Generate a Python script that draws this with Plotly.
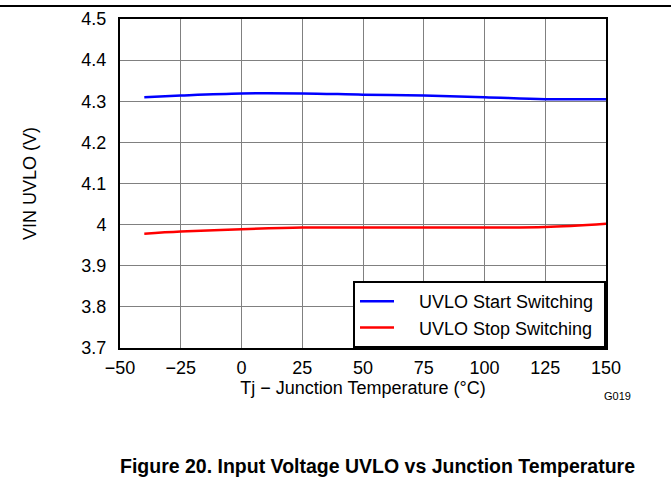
import plotly.graph_objects as go

temps = [-40, -25, 0, 25, 50, 75, 100, 125, 150]
uvlo_start = [4.310, 4.314, 4.319, 4.319, 4.316, 4.314, 4.310, 4.305, 4.305]
uvlo_stop = [3.978, 3.983, 3.989, 3.993, 3.993, 3.993, 3.993, 3.994, 4.002]
series_names = ["UVLO Start Switching", "UVLO Stop Switching"]

x_ticks = [-50, -25, 0, 25, 50, 75, 100, 125, 150]
y_ticks = [3.7, 3.8, 3.9, 4.0, 4.1, 4.2, 4.3, 4.4, 4.5]
y_ticktext = ["3.7", "3.8", "3.9", "4", "4.1", "4.2", "4.3", "4.4", "4.5"]

FONT = "Liberation Sans, Arial, sans-serif"
W, H = 671, 483
L, R, T, B = 120, 65, 19, 135
pw = W - L - R
ph = H - T - B

NB = "\u00a0"
fig = go.Figure()
fig.add_trace(go.Scatter(x=temps, y=uvlo_start, mode="lines", name=NB * 4 + series_names[0] + NB,
                         line=dict(color="#0000ff", width=2.5, shape="spline")))
fig.add_trace(go.Scatter(x=temps, y=uvlo_stop, mode="lines", name=NB * 4 + series_names[1] + NB,
                         line=dict(color="#ff0000", width=2.5, shape="spline")))

fig.update_layout(
    width=W, height=H,
    margin=dict(l=L, r=R, t=T, b=B, autoexpand=False),
    paper_bgcolor="white", plot_bgcolor="white",
    font=dict(family=FONT, size=18, color="black"),
    showlegend=True,
    legend=dict(x=1, y=0, xanchor="right", yanchor="bottom",
                bgcolor="white", bordercolor="black", borderwidth=2,
                font=dict(size=18), tracegroupgap=0, itemwidth=34),
    xaxis=dict(range=[-50, 150], tickvals=x_ticks, showgrid=True, gridcolor="#808080",
               gridwidth=1, showline=True, linecolor="black", linewidth=2, mirror=True,
               ticks="", zeroline=False, tickfont=dict(size=18), automargin=False,
               ticklabelstandoff=2,
               title=dict(text="Tj − Junction Temperature (°C)", font=dict(size=18), standoff=2)),
    yaxis=dict(range=[3.7, 4.5], tickvals=y_ticks, ticktext=y_ticktext, showgrid=True,
               gridcolor="#808080", gridwidth=1, showline=True, linecolor="black", linewidth=2,
               mirror=True, ticks="", zeroline=False, tickfont=dict(size=18), automargin=False,
               ticklabelstandoff=8,
               title=dict(text="VIN UVLO (V)", font=dict(size=18), standoff=40)),
)

fig.add_shape(type="line", xref="paper", yref="paper",
              x0=-L / pw, x1=(W - L) / pw, y0=1 + (T - 6) / ph, y1=1 + (T - 6) / ph,
              line=dict(color="black", width=2))

fig.add_annotation(text="G019", xref="paper", yref="paper", x=(617 - L) / pw,
                   y=-(396 - T - ph) / ph, xanchor="center", yanchor="middle",
                   showarrow=False, font=dict(size=11, family=FONT))
fig.add_annotation(text="<b>Figure 20. Input Voltage UVLO vs Junction Temperature</b>",
                   xref="paper", yref="paper", x=(377 - L) / pw, y=-(466 - T - ph) / ph,
                   xanchor="center", yanchor="middle", showarrow=False,
                   font=dict(size=19.5, family=FONT))

fig.write_html("out.html", config={"displayModeBar": False},
               post_script="document.body.style.margin='0';document.body.style.overflow='hidden';")
